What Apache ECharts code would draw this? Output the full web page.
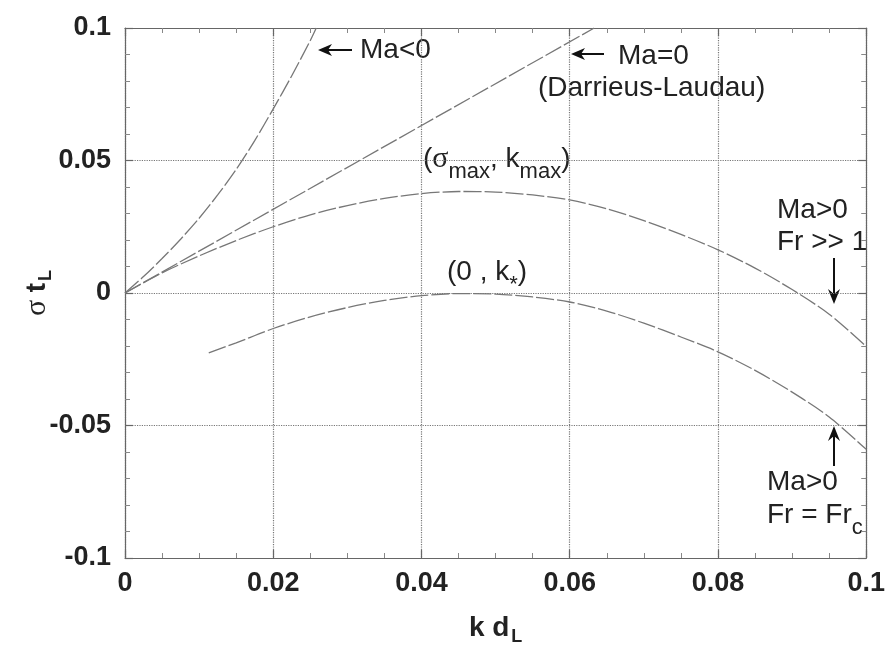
<!DOCTYPE html>
<html>
<head>
<meta charset="utf-8">
<script src="https://cdn.jsdelivr.net/npm/echarts@6/dist/echarts.min.js"></script>
<style>
html,body{margin:0;padding:0;background:#fff;}
#chart{width:888px;height:651px;}
</style>
</head>
<body>
<div id="chart"></div>
<script>
// ---- data ----
const xTickLabels = ['0', '0.02', '0.04', '0.06', '0.08', '0.1'];
const yTickLabels = ['-0.1', '-0.05', '0', '0.05', '0.1'];

// Ma < 0
const maNeg_k = [0, 0.0025, 0.005, 0.0075, 0.01, 0.0125, 0.015, 0.0175, 0.02, 0.0225, 0.025, 0.0258];
const maNeg_s = [0, 0.0062, 0.0130, 0.0203, 0.0282, 0.0370, 0.0466, 0.0575, 0.0695, 0.0820, 0.0953, 0.1];

// Ma = 0 (Darrieus-Landau)
const ma0_k = [0, 0.0633];
const ma0_s = [0, 0.1];

// Ma > 0, Fr >> 1
const frBig_k = [0, 0.005, 0.01, 0.015, 0.02, 0.025, 0.03, 0.035, 0.04, 0.045, 0.05, 0.055, 0.06, 0.065, 0.07, 0.075, 0.08, 0.085, 0.09, 0.095, 0.1];
const frBig_s = [0, 0.0076, 0.0140, 0.0198, 0.0250, 0.0295, 0.0330, 0.0357, 0.0375, 0.0383, 0.0381, 0.0370, 0.0351, 0.0318, 0.0273, 0.0221, 0.0163, 0.0094, 0.0013, -0.0080, -0.0202];

// Ma > 0, Fr = Fr_c
const frC_k = [0.0113, 0.015, 0.02, 0.025, 0.03, 0.035, 0.04, 0.045, 0.05, 0.055, 0.06, 0.065, 0.07, 0.075, 0.08, 0.085, 0.09, 0.095, 0.1];
const frC_s = [-0.0226, -0.0188, -0.0134, -0.0090, -0.0055, -0.0028, -0.0010, -0.0002, -0.0004, -0.0015, -0.0034, -0.0068, -0.0114, -0.0166, -0.0222, -0.0292, -0.0374, -0.0468, -0.0590];

function pairs(ks, ss) { return ks.map((k, i) => [k, ss[i]]); }

const FONT = '"Liberation Sans", Arial, sans-serif';
const TXT = '#222';
const AX = '#666';
const lineStyle = { color: '#777', width: 1.3, type: [18, 3] };

const chart = echarts.init(document.getElementById('chart'), null, { renderer: 'canvas' });

const baseX = {
  type: 'value', min: 0, max: 0.1, interval: 0.02,
  axisLine: { show: true, onZero: false, lineStyle: { color: AX, width: 1.2 } },
  axisTick: { show: true, inside: true, length: 8, lineStyle: { color: AX, width: 1.2 } },
  minorTick: { show: true, splitNumber: 4, length: 5, lineStyle: { color: '#888', width: 1 } },
  splitLine: { show: false },
  axisLabel: { show: false }
};
const baseY = {
  type: 'value', min: -0.1, max: 0.1, interval: 0.05,
  axisLine: { show: true, onZero: false, lineStyle: { color: AX, width: 1.2 } },
  axisTick: { show: true, inside: true, length: 8, lineStyle: { color: AX, width: 1.2 } },
  minorTick: { show: true, splitNumber: 5, length: 5, lineStyle: { color: '#888', width: 1 } },
  splitLine: { show: false },
  axisLabel: { show: false }
};

const labelFont = { fontFamily: FONT, fontSize: 27, fontWeight: 'bold', color: TXT };

const option = {
  animation: false,
  backgroundColor: '#fff',
  grid: { left: 125, right: 18, top: 28, bottom: 93 },
  xAxis: [
    Object.assign({}, baseX, {
      position: 'bottom',
      splitLine: { show: true, lineStyle: { color: '#777', type: 'dotted', width: 1.2 } },
      axisLabel: Object.assign({ show: true, margin: 12,
        formatter: (v) => xTickLabels[Math.round(v / 0.02)] }, labelFont),
      name: '{b|k d}{s|L}',
      nameLocation: 'middle', nameGap: 52,
      nameTextStyle: { rich: {
        b: { fontFamily: FONT, fontSize: 28, fontWeight: 'bold', color: TXT },
        s: { fontFamily: FONT, fontSize: 18, fontWeight: 'bold', color: TXT, padding: [18, 0, 0, 2] }
      } }
    }),
    Object.assign({}, baseX, { position: 'top' })
  ],
  yAxis: [
    Object.assign({}, baseY, {
      position: 'left',
      splitLine: { show: true, lineStyle: { color: '#777', type: 'dotted', width: 1.2 } },
      axisLabel: Object.assign({ show: true, margin: 14,
        formatter: (v) => yTickLabels[Math.round((v + 0.1) / 0.05)] }, labelFont),
      name: '{g|σ }{b|t}{s|L}',
      nameLocation: 'middle', nameGap: 70, nameRotate: 90, nameMoveOverlap: false,
      nameTextStyle: { rich: {
        g: { fontFamily: '"Liberation Serif", serif', fontSize: 30, color: TXT },
        b: { fontFamily: FONT, fontSize: 28, fontWeight: 'bold', color: TXT },
        s: { fontFamily: FONT, fontSize: 18, fontWeight: 'bold', color: TXT, padding: [18, 0, 0, 2] }
      } }
    }),
    Object.assign({}, baseY, { position: 'right' })
  ],
  series: [
    { name: 'Ma<0', type: 'line', data: pairs(maNeg_k, maNeg_s), smooth: 0.3, showSymbol: false, clip: true, lineStyle },
    { name: 'Ma=0', type: 'line', data: pairs(ma0_k, ma0_s), showSymbol: false, clip: true, lineStyle },
    { name: 'Fr>>1', type: 'line', data: pairs(frBig_k, frBig_s), smooth: 0.3, showSymbol: false, clip: true, lineStyle },
    { name: 'Fr=Frc', type: 'line', data: pairs(frC_k, frC_s), smooth: 0.3, showSymbol: false, clip: true, lineStyle }
  ],
  graphic: []
};

chart.setOption(option);

// ---- annotations ----
const tFont = { fontFamily: FONT, fontSize: 28, fill: TXT };
function text(x, y, str, extra) {
  return { type: 'text', x: x, y: y, style: Object.assign({ text: str, verticalAlign: 'middle' }, tFont, extra || {}) };
}
function richText(x, y, str) {
  return { type: 'text', x: x, y: y, style: {
    text: str, verticalAlign: 'middle', fill: TXT,
    rich: {
      n: { fontFamily: FONT, fontSize: 28, color: TXT },
      g: { fontFamily: '"Liberation Serif", serif', fontSize: 30, color: TXT },
      s: { fontFamily: FONT, fontSize: 22, color: TXT, padding: [26, 0, 0, 0] }
    }
  } };
}
function arrowH(x1, x2, y) { // arrow pointing to x2
  const dir = x2 < x1 ? 1 : -1;
  return [
    { type: 'line', shape: { x1: x1, y1: y, x2: x2 + dir * 8, y2: y }, style: { stroke: '#111', lineWidth: 2 } },
    { type: 'polygon', shape: { points: [[x2, y], [x2 + dir * 14, y - 6], [x2 + dir * 10, y], [x2 + dir * 14, y + 6]] }, style: { fill: '#111' } }
  ];
}
function arrowV(x, y1, y2) { // arrow pointing to y2
  const dir = y2 < y1 ? 1 : -1;
  return [
    { type: 'line', shape: { x1: x, y1: y1, x2: x, y2: y2 + dir * 8 }, style: { stroke: '#111', lineWidth: 2 } },
    { type: 'polygon', shape: { points: [[x, y2], [x - 6, y2 + dir * 15], [x, y2 + dir * 10], [x + 6, y2 + dir * 15]] }, style: { fill: '#111' } }
  ];
}

const g = [];
g.push(...arrowH(352, 318, 50));
g.push(text(360, 50, 'Ma<0'));
g.push(...arrowH(604, 571, 54));
g.push(text(618, 56, 'Ma=0'));
g.push(text(538, 88, '(Darrieus-Laudau)'));
g.push(richText(423, 159, '{n|(}{g|σ}{s|max}{n|, k}{s|max}{n|)}'));
g.push(richText(447, 272, '{n|(0 , k}{s|*}{n|)}'));
g.push(text(777, 210, 'Ma>0'));
g.push(text(777, 242, 'Fr >> 1'));
g.push(...arrowV(834, 258, 304));
g.push(...arrowV(834, 466, 426));
g.push(text(767, 482, 'Ma>0'));
g.push(richText(767, 515, '{n|Fr = Fr}{s|c}'));

chart.setOption({ graphic: g });
</script>
</body>
</html>
